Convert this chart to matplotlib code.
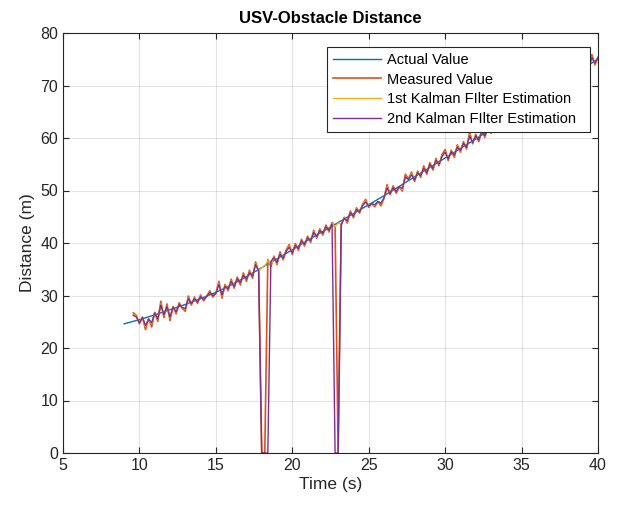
import numpy as np
import matplotlib
matplotlib.use("Agg")
import matplotlib.pyplot as plt

plt.rcParams['font.family'] = ['Liberation Sans', 'DejaVu Sans']

# Actual distance (sampled every 1 s)
actual_t = [9, 10, 11, 12, 13, 14, 15, 16, 17, 18, 19, 20, 21, 22, 23, 24, 25,
            26, 27, 28, 29, 30, 31, 32, 33, 34, 35, 36, 37, 38, 39, 40]
actual_v = [24.6, 25.4, 26.3, 27.3, 28.3, 29.4, 30.6, 32.0, 33.6, 35.3, 37.0,
            38.7, 40.5, 42.2, 43.9, 45.6, 47.3, 49.0, 50.8, 52.6, 54.4, 56.2,
            58.0, 59.8, 61.7, 63.6, 65.5, 67.4, 69.3, 71.2, 73.1, 75.1]

# Samples every 0.2 s from 9.6 s to 40.0 s
t_start, t_step = 9.6, 0.2

measured = [
    26.7, 26.2, 24.6, 25.9, 23.5, 25.6, 24.0, 26.8, 25.1, 28.9,
    25.8, 28.4, 25.2, 27.9, 26.5, 28.6, 27.6, 27.0, 29.9, 28.2,
    29.7, 28.5, 30.1, 29.0, 29.9, 30.9, 29.7, 30.4, 32.7, 29.5,
    32.1, 30.9, 33.1, 31.4, 33.5, 32.0, 34.3, 32.7, 34.8, 33.3,
    36.4, 34.5, 0.0, 0.0, 36.8, 35.5, 37.5, 35.9, 38.3, 36.8,
    38.7, 39.7, 37.8, 39.9, 38.6, 40.7, 39.4, 41.3, 40.1, 42.4,
    40.9, 42.7, 41.5, 43.4, 42.1, 43.9, 43.0, 0.0, 43.4, 44.9,
    43.8, 46.1, 44.8, 46.7, 45.7, 47.4, 48.3, 46.8, 47.5, 46.9,
    47.9, 47.1, 48.5, 51.1, 49.2, 50.9, 49.5, 50.7, 49.9, 53.1,
    52.2, 53.5, 51.7, 53.7, 52.5, 54.7, 53.1, 55.3, 53.9, 56.1,
    54.7, 56.9, 57.8, 55.7, 57.7, 56.3, 58.7, 57.3, 59.3, 57.9,
    61.1, 58.9, 60.7, 59.3, 61.6, 60.1, 62.3, 60.9, 63.1, 61.7,
    63.7, 62.5, 64.7, 63.1, 65.3, 63.9, 66.1, 64.7, 66.9, 65.5,
    67.5, 66.1, 68.3, 66.9, 69.1, 67.7, 69.9, 68.5, 70.7, 69.3,
    71.3, 69.9, 72.1, 70.7, 72.9, 71.5, 73.5, 72.3, 74.3, 73.1,
    75.9, 73.9, 75.4]

kalman1 = [
    26.4, 26.0, 24.8, 25.8, 24.1, 25.5, 24.6, 26.7, 25.4, 28.4,
    26.2, 28.0, 25.7, 27.8, 26.8, 28.3, 27.7, 27.4, 29.5, 28.4,
    29.5, 28.8, 29.9, 29.2, 29.8, 30.7, 30.0, 30.4, 32.3, 29.9,
    31.9, 31.1, 32.8, 31.7, 33.2, 32.3, 34.0, 33.0, 34.5, 33.7,
    36.0, 34.6, 35.3, 35.7, 36.6, 35.8, 37.3, 36.2, 38.0, 37.1,
    38.5, 39.4, 38.1, 39.7, 38.8, 40.4, 39.6, 41.1, 40.3, 42.1,
    41.1, 42.5, 41.7, 43.1, 42.3, 43.7, 43.1, 43.8, 43.6, 44.8,
    44.1, 45.9, 45.0, 46.5, 45.9, 47.2, 48.0, 47.0, 47.4, 47.2,
    47.9, 47.5, 48.5, 50.7, 49.4, 50.7, 49.8, 50.6, 50.2, 52.7,
    52.1, 53.2, 52.0, 53.5, 52.7, 54.4, 53.4, 55.0, 54.2, 55.8,
    54.9, 56.6, 57.4, 56.0, 57.5, 56.6, 58.4, 57.5, 59.0, 58.1,
    60.6, 59.1, 60.4, 59.6, 61.3, 60.3, 62.0, 61.1, 62.8, 61.9,
    63.4, 62.7, 64.4, 63.4, 65.0, 64.1, 65.8, 64.9, 66.6, 65.7,
    67.2, 66.4, 68.0, 67.2, 68.8, 67.9, 69.6, 68.7, 70.4, 69.5,
    71.0, 70.2, 71.8, 71.0, 72.6, 71.7, 73.3, 72.5, 74.1, 73.3,
    75.5, 74.1, 75.3]

kalman2 = [
    26.2, 25.9, 24.8, 25.8, 24.3, 25.5, 24.8, 26.7, 25.5, 28.2,
    26.3, 27.9, 25.9, 27.8, 26.9, 28.3, 27.7, 27.5, 29.4, 28.4,
    29.4, 28.8, 29.8, 29.2, 29.8, 30.6, 30.0, 30.4, 32.1, 30.1,
    31.8, 31.2, 32.7, 31.7, 33.2, 32.4, 33.9, 33.1, 34.4, 33.7,
    35.9, 34.7, 0.0, 0.0, 0.0, 36.5, 37.2, 36.3, 37.9, 37.1,
    38.4, 39.2, 38.1, 39.6, 38.9, 40.4, 39.7, 41.0, 40.4, 42.0,
    41.2, 42.4, 41.8, 43.1, 42.4, 43.6, 0.0, 0.0, 43.5, 44.7,
    44.2, 45.8, 45.1, 46.4, 45.9, 47.1, 47.8, 47.0, 47.5, 47.3,
    47.9, 47.6, 48.6, 50.5, 49.4, 50.6, 49.8, 50.7, 50.4, 52.6,
    52.1, 53.0, 52.0, 53.4, 52.8, 54.3, 53.4, 55.0, 54.2, 55.7,
    55.0, 56.5, 57.3, 56.0, 57.4, 56.7, 58.3, 57.6, 59.0, 58.2,
    60.4, 59.1, 60.4, 59.6, 61.2, 60.4, 61.9, 61.2, 62.7, 62.0,
    63.4, 62.8, 64.3, 63.4, 65.0, 64.2, 65.7, 65.0, 66.5, 65.8,
    67.2, 66.4, 68.0, 67.2, 68.8, 68.0, 69.5, 68.8, 70.3, 69.6,
    71.0, 70.2, 71.8, 71.0, 72.6, 71.8, 73.2, 72.6, 74.0, 73.4,
    75.4, 74.2, 75.3]

x_ticks = [5, 10, 15, 20, 25, 30, 35, 40]
y_ticks = [0, 10, 20, 30, 40, 50, 60, 70, 80]

t = t_start + t_step * np.arange(len(measured))

fig = plt.figure(figsize=(6.19, 5.07), dpi=100)
ax = fig.add_axes([63/619, 1 - 453/507, 535/619, 420/507])

c_blue = '#0072BD'
c_orange = '#D95319'
c_yellow = '#EDB120'
c_purple = '#7E2F8E'

ax.plot(actual_t, actual_v, color=c_blue, lw=1.0, label='Actual Value')
ax.plot(t, measured, color=c_orange, lw=1.2, label='Measured Value')
ax.plot(t, kalman1, color=c_yellow, lw=1.0, label='1st Kalman FIlter Estimation')
ax.plot(t, kalman2, color=c_purple, lw=1.0, label='2nd Kalman FIlter Estimation')

ax.set_xlim(5, 40)
ax.set_ylim(0, 80)
ax.set_xticks(x_ticks)
ax.set_yticks(y_ticks)
ax.grid(True, color='#262626', alpha=0.12, lw=0.8)
ax.set_axisbelow(True)
for s in ax.spines.values():
    s.set_color('#262626')
    s.set_linewidth(0.8)
ax.tick_params(direction='in', top=True, right=True, colors='#262626',
               labelsize=11.5, length=4, width=0.8)
ax.set_xlabel('Time (s)', fontsize=12.5, color='#262626', labelpad=3)
ax.set_ylabel('Distance (m)', fontsize=12.5, color='#262626', labelpad=4)
ax.set_title('USV-Obstacle Distance', fontsize=12, fontweight='bold',
             color='black', pad=7)

handles, labels = ax.get_legend_handles_labels()
leg = ax.legend(handles, [lab + '  ' for lab in labels],
                loc='upper right', bbox_to_anchor=(0.985, 0.967),
                borderaxespad=0, fontsize=10.5, fancybox=False,
                edgecolor='#262626', framealpha=1, handlelength=3.3,
                handletextpad=0.4, borderpad=0.4, labelspacing=0.4)
leg.get_frame().set_linewidth(0.8)

fig.savefig('out.png', dpi=100)
